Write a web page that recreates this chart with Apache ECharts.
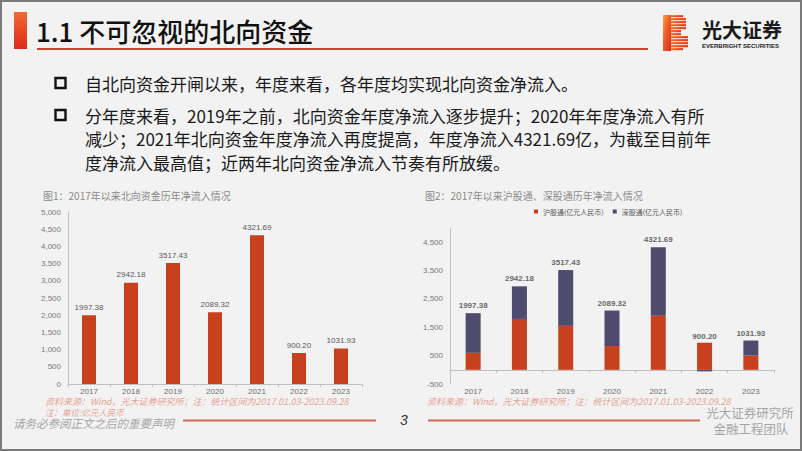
<!DOCTYPE html>
<html><head><meta charset="utf-8">
<script src="https://cdn.jsdelivr.net/npm/echarts@6/dist/echarts.min.js"></script>
<style>html,body{margin:0;padding:0;background:#f2f2f2}#c{width:802px;height:451px}</style>
</head><body><div id="c"></div>
<script>
// ---- data ----
const years = ['2017', '2018', '2019', '2020', '2021', '2022', '2023'];
const northTotal = [1997.38, 2942.18, 3517.43, 2089.32, 4321.69, 900.20, 1031.93];
const shConnect = [600, 1793, 1550, 840, 1910, 955, 502];
const szConnect = [1397.38, 1149.18, 1967.43, 1249.32, 2411.69, -54.80, 529.93];
const yTicksLeft = [0, 500, 1000, 1500, 2000, 2500, 3000, 3500, 4000, 4500, 5000];
const yTicksRight = [-500, 500, 1500, 2500, 3500, 4500];
const yMaxRight = 5000;
const seriesNames = ['沪股通(亿元人民币)', '深股通(亿元人民币)'];
const pageTitle = '1.1 不可忽视的北向资金';
const bulletLines = [
  ['自北向资金开闸以来，年度来看，各年度均实现北向资金净流入。'],
  ['分年度来看，2019年之前，北向资金年度净流入逐步提升；2020年年度净流入有所',
   '减少；2021年北向资金年度净流入再度提高，年度净流入4321.69亿，为截至目前年',
   '度净流入最高值；近两年北向资金净流入节奏有所放缓。']
];
const chart1Title = '图1：2017年以来北向资金历年净流入情况';
const chart2Title = '图2：2017年以来沪股通、深股通历年净流入情况';
const sourceText = '资料来源：Wind，光大证券研究所；注：统计区间为2017.01.03-2023.09.28';
const unitText = '注：单位:亿元人民币';

// ---- styles ----
const RED = '#C8411E', NAVY = '#4F4B6F';
const CJK = '"Noto Sans CJK SC","Noto Sans",sans-serif';
const LAT = '"Liberation Sans",Arial,sans-serif';

function txt(x, y, text, font, fill, align) {
  return { type: 'text', x: x, y: y, silent: true,
    style: { text: text, font: font, fill: fill, textAlign: align || 'left', align: align || 'left',
             textVerticalAlign: 'middle', verticalAlign: 'middle' } };
}
function rect(x, y, w, h, fill) {
  return { type: 'rect', shape: { x: x, y: y, width: w, height: h }, style: { fill: fill }, silent: true };
}

const g = [];
// page border
g.push({ type: 'rect', shape: { x: 1, y: 1, width: 800, height: 449 }, style: { fill: 'none', stroke: '#7a7a7a', lineWidth: 2 }, silent: true });
// title bar
g.push({ type: 'rect', shape: { x: 14, y: 12, width: 13, height: 37 },
  style: { fill: new echarts.graphic.LinearGradient(0, 0, 0, 1, [{ offset: 0, color: '#F06A30' }, { offset: 1, color: '#DD2A1C' }]) }, silent: true });
g.push(txt(36, 30, pageTitle, '500 26px ' + CJK, '#111'));
g.push(rect(37, 48, 611, 2, '#C6452B'));
// logo icon
const logoGrad = new echarts.graphic.LinearGradient(0, 0, 1, 1, [{ offset: 0, color: '#F7A53E' }, { offset: 0.45, color: '#EE5C2C' }, { offset: 1, color: '#DC2A1E' }]);
g.push({ type: 'rect', shape: { x: 663, y: 15, width: 8, height: 36 }, style: { fill: logoGrad }, silent: true });
for (let i = 0; i < 12; i++) {
  const yy = 15 + i * 3;
  let right = 686;
  if (i === 5 || i === 6) right = 681;
  if (i === 0 || i === 11) right = 683;
  if (i > 6 && i < 11) right = 688;
  g.push({ type: 'rect', shape: { x: 671, y: yy, width: right - 671, height: 2.2 }, style: { fill: logoGrad }, silent: true });
}
g.push(txt(702, 29.5, '光大证券', 'bold 20px ' + CJK, '#1a1a1a'));
g.push(txt(702, 46, 'EVERBRIGHT SECURITIES', 'bold 6px ' + LAT, '#222'));
// bullets
const bulletY = [[83], [115, 138.5, 162]];
bulletLines.forEach(function (lines, bi) {
  g.push({ type: 'rect', shape: { x: 55.5, y: bulletY[bi][0] - 5, width: 10, height: 10 }, style: { fill: 'none', stroke: '#111', lineWidth: 2.4 }, silent: true });
  lines.forEach(function (l, li) { g.push(txt(85, bulletY[bi][li], l, '17px ' + CJK, '#1a1a1a')); });
});
// chart titles
g.push(txt(43, 195, chart1Title, '10px ' + CJK, '#8a8a8a'));
g.push(txt(425, 195, chart2Title, '10px ' + CJK, '#8a8a8a'));
// sources
const srcColor = '#E6A293';
g.push(txt(45, 401.5, sourceText, 'italic 9px ' + CJK, srcColor));
g.push(txt(45, 411.5, unitText, 'italic 8.5px ' + CJK, srcColor));
g.push(txt(427, 401.5, sourceText, 'italic 9px ' + CJK, srcColor));
// footer
g.push(txt(13, 422.5, '请务必参阅正文之后的重要声明', 'italic 11.5px ' + CJK, '#A6A6A6'));
g.push(rect(183, 419.5, 193, 2, '#CF6A52'));
g.push(txt(400, 420, '3', 'italic 14px ' + LAT, '#333'));
g.push(rect(428, 419.5, 272, 2, '#CF6A52'));
g.push(txt(750, 412.5, '光大证券研究所', '12.5px ' + CJK, '#A6A6A6', 'center'));
g.push(txt(751, 428.5, '金融工程团队', '12.5px ' + CJK, '#A6A6A6', 'center'));

const axisGray = '#BFBFBF';
const fmt2 = function (p) { return Number(p.value).toFixed(2); };

const option = {
  backgroundColor: '#F2F2F2',
  animation: false,
  textStyle: { fontFamily: LAT },
  legend: {
    data: seriesNames, left: 534, top: 208, itemWidth: 4, itemHeight: 4, itemGap: 9, padding: 0,
    icon: 'rect', textStyle: { fontSize: 7, color: '#595959', fontFamily: CJK }
  },
  grid: [
    { left: 68, top: 212, width: 294, height: 172 },
    { left: 450, top: 228, width: 324, height: 156 }
  ],
  xAxis: [
    { type: 'category', gridIndex: 0, data: years,
      axisLine: { lineStyle: { color: axisGray } },
      axisTick: { show: true, length: 3, lineStyle: { color: axisGray } },
      axisLabel: { fontSize: 8, color: '#6e6e6e', margin: 3 } },
    { type: 'category', gridIndex: 1, data: years,
      axisLine: { onZero: true, lineStyle: { color: axisGray } },
      axisTick: { show: true, length: 3, lineStyle: { color: axisGray } },
      axisLabel: { fontSize: 8, color: '#6e6e6e', margin: 3 } }
  ],
  yAxis: [
    { type: 'value', gridIndex: 0, min: yTicksLeft[0], max: yTicksLeft[yTicksLeft.length - 1],
      interval: yTicksLeft[1] - yTicksLeft[0],
      axisLine: { show: true, lineStyle: { color: axisGray } }, axisTick: { show: false },
      splitLine: { show: false }, axisLabel: { fontSize: 8, color: '#7a7a7a', margin: 7 } },
    { type: 'value', gridIndex: 1, min: yTicksRight[0], max: yMaxRight,
      interval: yTicksRight[1] - yTicksRight[0],
      axisLine: { show: true, lineStyle: { color: axisGray } }, axisTick: { show: false },
      splitLine: { show: false },
      axisLabel: { fontSize: 8, color: '#7a7a7a', margin: 7, showMaxLabel: false } }
  ],
  series: [
    { type: 'bar', xAxisIndex: 0, yAxisIndex: 0, data: northTotal, barWidth: 14,
      itemStyle: { color: RED },
      label: { show: true, position: 'top', distance: 4, fontSize: 8, color: '#595959', formatter: fmt2 } },
    { name: seriesNames[0], type: 'bar', xAxisIndex: 1, yAxisIndex: 1, stack: 'north', data: shConnect,
      barWidth: 15, itemStyle: { color: RED } },
    { name: seriesNames[1], type: 'bar', xAxisIndex: 1, yAxisIndex: 1, stack: 'north', data: szConnect,
      barWidth: 15, itemStyle: { color: NAVY } },
    { type: 'scatter', xAxisIndex: 1, yAxisIndex: 1, data: northTotal, symbolSize: 1, z: 5,
      itemStyle: { color: 'rgba(0,0,0,0)' }, silent: true,
      label: { show: true, position: 'top', distance: 3, fontSize: 8, fontWeight: 'bold', color: '#404040', formatter: fmt2 } }
  ],
  graphic: g
};

const chart = echarts.init(document.getElementById('c'), null, { renderer: 'svg', width: 802, height: 451 });
chart.setOption(option);
</script>
</body></html>
